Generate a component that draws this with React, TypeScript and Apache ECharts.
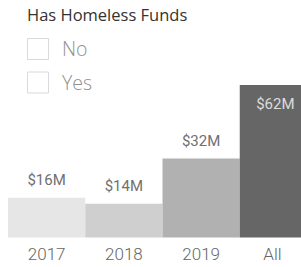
import React, { useEffect, useRef } from "react";
import * as echarts from "echarts";

const categories = ["2017", "2018", "2019", "All"];
const values = [16.0, 13.6, 31.9, 61.5];
const barColors = ["#e6e6e6", "#cfcfcf", "#b1b1b1", "#666666"];
const legendTitle = "Has Homeless Funds";
const legendItems = ["No", "Yes"];

export default function App() {
  const ref = useRef<HTMLDivElement>(null);
  useEffect(() => {
    if (!ref.current) return;
    document.body.style.margin = "0";
    const chart = echarts.init(ref.current, null, { renderer: "svg" });
    const lastIdx = values.length - 1;
    chart.setOption({
      animation: false,
      grid: {
        left: 8,
        top: 85,
        width: 309,
        height: 152.5,
        containLabel: false,
        outerBoundsMode: "none",
      },
      xAxis: {
        type: "category",
        data: categories,
        axisLine: { show: false },
        axisTick: { show: false },
        axisLabel: {
          interval: 0,
          hideOverlap: false,
          color: "#666",
          fontFamily: "Roboto",
          fontSize: 17,
          fontWeight: 300,
          margin: 8,
          formatter: (v: string, i: number) =>
            i === lastIdx ? "{last|" + v + "}" : v,
          rich: {
            last: {
              color: "#666",
              fontFamily: "Roboto",
              fontSize: 17,
              fontWeight: 300,
              padding: [0, 12, 0, 0],
            },
          },
        },
      },
      yAxis: {
        type: "value",
        min: 0,
        max: "dataMax",
        show: false,
        splitLine: { show: false },
      },
      series: [
        {
          type: "bar",
          barCategoryGap: "0%",
          data: values.map((v, i) => ({
            value: v,
            itemStyle: { color: barColors[i] },
            label: i === lastIdx
              ? { position: "insideTop", distance: 11, offset: [-3, 0], color: "#dcdcdc" }
              : { position: "top", distance: 10, color: "#707070" },
          })),
          label: {
            show: true,
            fontFamily: "Roboto",
            fontSize: 15,
            formatter: (p: any) => "$" + Math.round(p.value) + "M",
          },
        },
      ],
      graphic: [
        {
          type: "text",
          left: 27,
          top: 6,
          style: {
            text: legendTitle,
            fontFamily: "Open Sans",
            fontSize: 16.5,
            fill: "#333",
          },
        },
        ...legendItems.flatMap((t, i) => [
          {
            type: "rect",
            shape: { x: 27.5, y: 38.5 + i * 33.5, width: 21, height: 21 },
            style: { fill: "#fff", stroke: "#dadada", lineWidth: 1 },
          },
          {
            type: "text",
            left: 62,
            top: 38.5 + i * 34,
            style: {
              text: t,
              fontFamily: "Open Sans",
              fontSize: 19.5,
              fontWeight: 300,
              fill: "#909090",
            },
          },
        ]),
      ],
    });
    return () => chart.dispose();
  }, []);
  return <div ref={ref} style={{ width: 301, height: 267 }} />;
}
